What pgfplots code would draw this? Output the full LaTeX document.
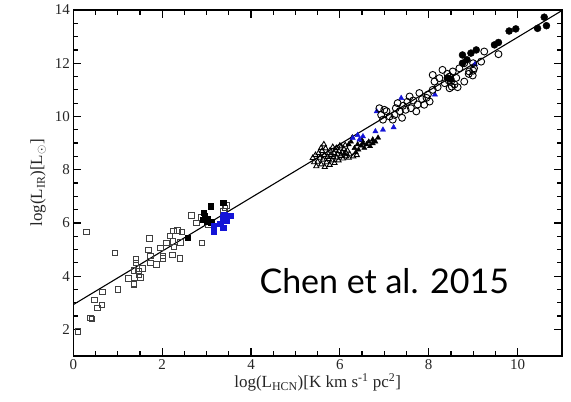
\documentclass[border=0pt]{standalone}
\usepackage{pgfplots}
\pgfplotsset{compat=1.18}
\usepackage{fontspec}
\setmainfont{Liberation Serif}
\newfontfamily\titlefont{Lato}
\definecolor{ptblue}{RGB}{20,20,215}

\begin{document}
\begin{tikzpicture}
\begin{axis}[
  width=488.7pt, height=346pt, scale only axis,
  xmin=0, xmax=11, ymin=1, ymax=14,
  xtick={0,2,...,10}, ytick={2,4,...,14},
  minor x tick num=3, minor y tick num=3,
  major tick length=8pt, minor tick length=5pt,
  axis line style={line width=1.3pt},
  tick style={line width=1.2pt, black},
  tick label style={font=\fontsize{15}{15}\selectfont, text=black!85},
  /pgf/number format/assume math mode=true,
  xlabel={log(L\textsubscript{HCN})[K km s\textsuperscript{-1} pc\textsuperscript{2}]},
  ylabel={log(L\textsubscript{IR})[L\textsubscript{$\odot$}]},
  label style={font=\fontsize{17}{17}\selectfont, text=black!85},
  xlabel shift=-3pt,
  ylabel shift=2pt,
]
% best fit relation
\addplot[black, line width=1.1pt] coordinates {(0,2.93) (11,13.98)};

% open squares
\addplot[only marks, mark=square, mark size=2.7pt, mark options={line width=0.9pt, draw=black!75}] coordinates {
(0.11,1.92) (0.30,5.66) (0.39,2.42) (0.42,2.40) (0.48,3.11) (0.54,2.81)
(0.64,2.91) (0.66,3.41) (0.94,4.88) (1.00,3.50) (1.24,3.92) (1.36,3.69)
(1.36,3.73) (1.36,4.22) (1.41,4.63) (1.41,4.50) (1.47,4.20) (1.48,4.07)
(1.51,3.95) (1.56,4.29) (1.69,4.98) (1.71,5.41) (1.74,4.75) (1.74,4.50)
(1.87,4.44) (1.96,5.06) (2.02,4.75) (2.02,4.67) (2.10,5.25) (2.17,5.50)
(2.24,5.31) (2.25,5.69) (2.26,5.10) (2.23,4.79) (2.34,5.72) (2.40,4.67)
(2.41,5.27) (2.44,5.66) (2.66,6.28) (2.77,6.00) (2.89,5.25) (2.87,6.20)
(3.04,5.95) (3.41,6.56) (3.45,6.66) (3.38,6.45)
};
% filled black squares
\addplot[only marks, mark=square*, mark size=2.7pt, mark options={draw=black, fill=black}] coordinates {
(2.58,5.44) (2.92,6.13) (2.94,6.38) (2.96,6.25) (3.00,6.06) (3.03,6.16)
(3.09,6.63) (3.10,6.03) (3.37,6.75)
};
% filled blue squares
\addplot[only marks, mark=square*, mark size=2.7pt, mark options={draw=ptblue, fill=ptblue}] coordinates {
(3.16,5.90) (3.16,5.66) (3.31,5.98) (3.37,6.21) (3.37,5.81) (3.45,6.09)
(3.54,6.28) (3.40,6.30)
};
% open triangles
\addplot[only marks, mark=triangle, mark size=3pt, mark options={line width=0.9pt, draw=black}] coordinates {
(5.39,8.44) (5.45,8.55) (5.47,8.13) (5.50,8.30) (5.52,8.62) (5.55,8.45)
(5.58,8.20) (5.60,8.70) (5.62,8.38) (5.65,8.55) (5.66,8.10) (5.68,8.80)
(5.70,8.28) (5.72,8.48) (5.73,8.62) (5.75,8.40) (5.77,8.18) (5.78,8.72)
(5.80,8.55) (5.82,8.35) (5.84,8.85) (5.85,8.48) (5.87,8.62) (5.88,8.25)
(5.90,8.75) (5.92,8.81) (5.93,8.45) (5.95,8.58) (5.97,8.35) (5.98,8.70)
(6.00,8.90) (6.02,8.52) (6.03,8.87) (6.05,8.65) (6.07,8.42) (6.09,8.78)
(6.10,8.58) (6.12,8.92) (6.14,8.62) (6.14,8.50) (6.17,8.72) (6.20,8.45)
(5.58,8.82) (5.42,8.28) (5.64,8.95) (6.22,8.58) (6.30,8.50) (6.38,8.55)
};
% filled black triangles
\addplot[only marks, mark=triangle*, mark size=3pt, mark options={draw=black, fill=black}] coordinates {
(6.28,9.21) (6.33,8.81) (6.40,8.95) (6.42,8.75) (6.48,8.90) (6.52,9.00)
(6.55,8.82) (6.60,8.95) (6.65,9.05) (6.68,8.88) (6.74,8.99) (6.74,9.13)
(6.80,9.05) (6.86,9.20) (6.50,9.10) (6.20,8.95) (6.25,9.05) (6.36,8.65)
};
% filled blue triangles
\addplot[only marks, mark=triangle*, mark size=3pt, mark options={draw=ptblue, fill=ptblue}] coordinates {
(6.29,9.19) (6.44,9.13) (6.52,9.25) (6.80,9.44) (6.97,9.50) (7.21,9.59)
(6.83,10.19) (7.38,10.69) (8.14,10.82) (9.04,11.96) (6.40,9.30)
};
% open circles
\addplot[only marks, mark=o, mark size=3.5pt, mark options={line width=0.9pt, draw=black}] coordinates {
(6.89,10.31) (6.93,10.06) (6.97,9.88) (7.05,10.20) (7.19,9.88) (7.23,10.06)
(7.26,10.31) (7.30,10.50) (7.35,10.20) (7.42,10.40) (7.48,10.25) (7.52,10.55)
(7.57,10.75) (7.60,10.31) (7.65,10.60) (7.72,10.19) (7.75,10.45) (7.79,10.88)
(7.85,10.65) (7.90,10.44) (7.95,10.70) (7.98,10.82) (8.02,10.56) (8.09,11.00)
(8.09,11.56) (8.13,11.31) (8.20,11.10) (8.24,11.44) (8.31,11.75) (8.36,11.25)
(8.42,11.60) (8.47,11.50) (8.47,11.06) (8.50,11.30) (8.54,11.69) (8.58,11.20)
(8.62,11.45) (8.69,11.81) (8.65,11.10) (8.80,11.31) (8.80,12.00) (8.90,11.60)
(8.91,11.69) (8.99,11.54) (9.00,11.72) (9.02,11.81) (9.00,12.00) (9.18,12.06)
(9.25,12.44) (9.57,12.34) (7.12,10.00) (7.40,9.95) (8.52,11.12) (8.45,11.35)
(7.00,10.25)
};
% filled black circles
\addplot[only marks, mark=*, mark size=3.5pt, mark options={draw=black, fill=black}] coordinates {
(8.76,12.31) (8.76,12.00) (8.86,12.13) (8.95,12.38) (9.07,12.50) (9.48,12.69)
(9.57,12.78) (9.81,13.21) (9.96,13.29) (10.45,13.31) (10.60,13.73) (10.65,13.41)
(8.42,11.45) (8.50,11.40)
};

\node[font=\titlefont\fontsize{34}{34}\selectfont, anchor=base] at (axis cs:7.0,3.33) {Chen et al. 2015};
\end{axis}
% page extent around the axis box
\path (-73.3pt,-46pt) rectangle (497.7pt,356pt);
\end{tikzpicture}
\end{document}
